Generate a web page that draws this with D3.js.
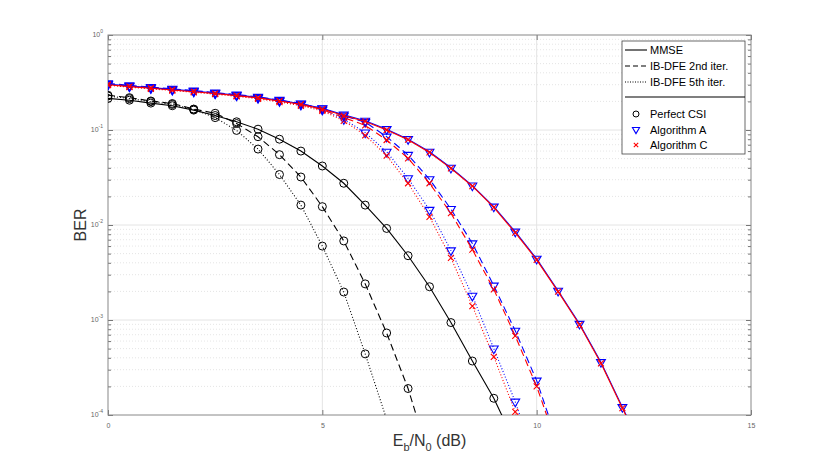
<!DOCTYPE html>
<html>
<head>
  <meta charset="UTF-8">
  <title>BER vs Eb/N0</title>
  <script src="https://d3js.org/d3.v7.min.js"></script>
  <style>
    body { margin: 0; background: #fff; }
    text { font-family: "Liberation Sans", Arial, sans-serif; }
  </style>
</head>
<body>
  <svg width="830" height="467"></svg>

  <script>
    // Eb/N0 points (dB), 0.5 dB step
    const snr = [0, 0.5, 1, 1.5, 2, 2.5, 3, 3.5, 4, 4.5, 5, 5.5, 6, 6.5, 7, 7.5, 8, 8.5, 9, 9.5, 10, 10.5, 11, 11.5, 12, 12.5];

    // perfect CSI
    const perfMmse = [0.215, 0.206, 0.192, 0.180, 0.162, 0.142, 0.122, 0.102, 0.080, 0.060, 0.0418, 0.0275, 0.0162, 0.0092, 0.00475, 0.00224, 0.00094, 0.00037, 0.00015, 0.00005];
    const perfIb2 = [0.232, 0.219, 0.202, 0.190, 0.166, 0.150, 0.117, 0.085, 0.055, 0.032, 0.0156, 0.0068, 0.0024, 0.00073, 0.00019, 0.000035];
    const perfIb5 = [0.228, 0.214, 0.199, 0.186, 0.165, 0.135, 0.099, 0.063, 0.034, 0.0162, 0.0060, 0.00197, 0.00044, 0.00009];

    // algorithm A
    const algAMmse = [0.305, 0.290, 0.279, 0.268, 0.257, 0.245, 0.233, 0.221, 0.205, 0.189, 0.169, 0.145, 0.125, 0.102, 0.080, 0.059, 0.040, 0.026, 0.0156, 0.0085, 0.0044, 0.00203, 0.00091, 0.00036, 0.000121, 0.00004];
    const algAIb2 = [0.310, 0.295, 0.283, 0.271, 0.260, 0.248, 0.236, 0.223, 0.207, 0.190, 0.168, 0.141, 0.121, 0.085, 0.0546, 0.0303, 0.0147, 0.0064, 0.0023, 0.00077, 0.00023, 0.00005];
    const algAIb5 = [0.300, 0.286, 0.275, 0.264, 0.253, 0.242, 0.230, 0.217, 0.201, 0.184, 0.163, 0.130, 0.094, 0.059, 0.031, 0.0144, 0.0054, 0.0018, 0.0005, 0.000138, 0.00003];

    // algorithm C
    const algCMmse = [0.300, 0.286, 0.275, 0.264, 0.253, 0.242, 0.230, 0.218, 0.202, 0.186, 0.166, 0.142, 0.123, 0.100, 0.079, 0.058, 0.0395, 0.0256, 0.0153, 0.0083, 0.0043, 0.00199, 0.00089, 0.00035, 0.000118, 0.00004];
    const algCIb2 = [0.305, 0.290, 0.279, 0.267, 0.256, 0.244, 0.232, 0.219, 0.203, 0.186, 0.164, 0.135, 0.112, 0.0785, 0.0504, 0.0275, 0.0133, 0.0055, 0.0021, 0.00068, 0.00020, 0.000045];
    const algCIb5 = [0.296, 0.282, 0.271, 0.260, 0.249, 0.238, 0.226, 0.213, 0.197, 0.180, 0.159, 0.125, 0.088, 0.0537, 0.0275, 0.0122, 0.0045, 0.0014, 0.00041, 0.000108, 0.00002];

    const xTicks = [0, 5, 10, 15];
    const yTicks = [1e-4, 1e-3, 1e-2, 1e-1, 1];
    const yExp = ["-4", "-3", "-2", "-1", "0"];

    const dashes = { mmse: null, ib2: "7,4", ib5: "1,2" };

    const series = [
      { v: perfMmse, color: "#000", style: "mmse", marker: "circle" },
      { v: perfIb2, color: "#000", style: "ib2", marker: "circle" },
      { v: perfIb5, color: "#000", style: "ib5", marker: "circle" },
      { v: algAIb5, color: "#0000ff", style: "ib5", marker: "tri" },
      { v: algCIb5, color: "#ff0000", style: "ib5", marker: "cross" },
      { v: algAIb2, color: "#0000ff", style: "ib2", marker: "tri" },
      { v: algCIb2, color: "#ff0000", style: "ib2", marker: "cross" },
      { v: algAMmse, color: "#0000ff", style: "mmse", marker: "tri" },
      { v: algCMmse, color: "#ff0000", style: "mmse", marker: "cross" }
    ];

    const pLeft = 108, pRight = 751, pTop = 35, pBottom = 415;

    const x = d3.scaleLinear().domain([0, 15]).range([pLeft, pRight]);
    const y = d3.scaleLog().domain([1e-4, 1]).range([pBottom, pTop]);

    const svg = d3.select("svg");

    svg.append("defs").append("clipPath").attr("id", "plot")
      .append("rect")
      .attr("x", pLeft).attr("y", pTop)
      .attr("width", pRight - pLeft).attr("height", pBottom - pTop);

    // minor y values 2..9 per decade
    const minorY = [];
    for (let e = -4; e < 0; e++) {
      for (let m = 2; m <= 9; m++) minorY.push(m * Math.pow(10, e));
    }

    // grid
    const grid = svg.append("g");
    grid.append("g").selectAll("line")
      .data(minorY)
      .join("line")
      .attr("x1", pLeft).attr("x2", pRight)
      .attr("y1", d => y(d)).attr("y2", d => y(d))
      .attr("stroke", "#dadada")
      .attr("stroke-width", 0.7)
      .attr("stroke-dasharray", "1,2");
    grid.append("g").selectAll("line")
      .data(yTicks.slice(1, -1))
      .join("line")
      .attr("x1", pLeft).attr("x2", pRight)
      .attr("y1", d => y(d)).attr("y2", d => y(d))
      .attr("stroke", "#e4e4e4");
    grid.append("g").selectAll("line")
      .data(xTicks.slice(1, -1))
      .join("line")
      .attr("y1", pTop).attr("y2", pBottom)
      .attr("x1", d => x(d)).attr("x2", d => x(d))
      .attr("stroke", "#e4e4e4");

    // axes
    const axisColor = "#777";
    const styleAxis = g => {
      g.select(".domain").remove();
      g.selectAll(".tick line").attr("stroke", axisColor);
      g.selectAll(".tick text").attr("fill", "#666").attr("font-size", 7);
    };

    svg.append("g")
      .attr("transform", `translate(0,${pBottom})`)
      .call(d3.axisBottom(x).tickValues(xTicks).tickSize(-5).tickPadding(8).tickFormat(d3.format("d")))
      .call(styleAxis);
    svg.append("g")
      .attr("transform", `translate(0,${pTop})`)
      .call(d3.axisTop(x).tickValues(xTicks).tickSize(-5).tickFormat(""))
      .call(styleAxis);

    const yAxisL = svg.append("g")
      .attr("transform", `translate(${pLeft},0)`)
      .call(d3.axisLeft(y).tickValues(yTicks).tickSize(-5).tickPadding(5).tickFormat(""))
      .call(styleAxis);
    yAxisL.selectAll(".tick text")
      .attr("dy", "0.2em")
      .each(function (d, i) {
        const t = d3.select(this);
        t.append("tspan").text("10");
        t.append("tspan").attr("font-size", 5).attr("dy", "-0.7em").text(yExp[i]);
      });
    svg.append("g")
      .attr("transform", `translate(${pRight},0)`)
      .call(d3.axisRight(y).tickValues(yTicks).tickSize(-5).tickFormat(""))
      .call(styleAxis);
    svg.append("g")
      .attr("transform", `translate(${pLeft},0)`)
      .call(d3.axisLeft(y).tickValues(minorY).tickSize(-3).tickFormat(""))
      .call(styleAxis);
    svg.append("g")
      .attr("transform", `translate(${pRight},0)`)
      .call(d3.axisRight(y).tickValues(minorY).tickSize(-3).tickFormat(""))
      .call(styleAxis);

    // frame
    svg.append("rect")
      .attr("x", pLeft).attr("y", pTop)
      .attr("width", pRight - pLeft).attr("height", pBottom - pTop)
      .attr("fill", "none")
      .attr("stroke", "#888")
      .attr("stroke-width", 1);

    // curves
    const line = d3.line().x(d => x(d[0])).y(d => y(d[1]));
    const tri = d3.symbol().type(d3.symbolTriangle).size(34);

    const plot = svg.append("g").attr("clip-path", "url(#plot)");

    function drawMarker(g, kind, color) {
      if (kind === "circle") {
        g.append("circle").attr("r", 4).attr("fill", "none").attr("stroke", color).attr("stroke-width", 1);
      } else if (kind === "tri") {
        g.append("path").attr("d", tri()).attr("transform", "rotate(180)")
          .attr("fill", "none").attr("stroke", color).attr("stroke-width", 1.1);
      } else {
        g.append("path").attr("d", "M-3,-3L3,3M-3,3L3,-3")
          .attr("stroke", color).attr("stroke-width", 1.1);
      }
    }

    series.forEach(s => {
      const pts = s.v.map((v, i) => [snr[i], v]);
      plot.append("path")
        .datum(pts)
        .attr("d", line)
        .attr("fill", "none")
        .attr("stroke", s.color)
        .attr("stroke-width", 1.1)
        .attr("stroke-dasharray", dashes[s.style]);
      plot.append("g").selectAll("g")
        .data(pts.filter(p => p[1] >= 1e-4))
        .join("g")
        .attr("transform", p => `translate(${x(p[0])},${y(p[1])})`)
        .each(function () { drawMarker(d3.select(this), s.marker, s.color); });
    });

    // axis labels
    svg.append("text")
      .attr("transform", `translate(86,${(pTop + pBottom) / 2}) rotate(-90)`)
      .attr("text-anchor", "middle")
      .attr("font-size", 16)
      .attr("fill", "#333")
      .text("BER");

    const xl = svg.append("text")
      .attr("x", (pLeft + pRight) / 2)
      .attr("y", 446)
      .attr("text-anchor", "middle")
      .attr("font-size", 16)
      .attr("fill", "#333");
    xl.append("tspan").text("E");
    xl.append("tspan").attr("font-size", 11).attr("dy", 5).text("b");
    xl.append("tspan").attr("dy", -5).text("/N");
    xl.append("tspan").attr("font-size", 11).attr("dy", 5).text("0");
    xl.append("tspan").attr("dy", -5).text(" (dB)");

    // legend
    const legLines = [
      { label: "MMSE", style: "mmse" },
      { label: "IB-DFE 2nd iter.", style: "ib2" },
      { label: "IB-DFE 5th iter.", style: "ib5" }
    ];
    const legMarkers = [
      { label: "Perfect CSI", marker: "circle", color: "#000" },
      { label: "Algorithm A", marker: "tri", color: "#0000ff" },
      { label: "Algorithm C", marker: "cross", color: "#ff0000" }
    ];

    const leg = svg.append("g");
    leg.append("rect")
      .attr("x", 622).attr("y", 41)
      .attr("width", 123).attr("height", 113)
      .attr("fill", "#fff")
      .attr("stroke", "#444")
      .attr("stroke-width", 0.8);

    legLines.forEach((d, i) => {
      const yy = 50 + i * 16;
      leg.append("line")
        .attr("x1", 625).attr("x2", 647)
        .attr("y1", yy).attr("y2", yy)
        .attr("stroke", "#000")
        .attr("stroke-width", 1.1)
        .attr("stroke-dasharray", d.style === "ib2" ? "5,3" : d.style === "ib5" ? "1,1.5" : null);
      leg.append("text")
        .attr("x", 650).attr("y", yy + 4)
        .attr("font-size", 11)
        .attr("fill", "#000")
        .text(d.label);
    });

    leg.append("line")
      .attr("x1", 625).attr("x2", 745)
      .attr("y1", 97).attr("y2", 97)
      .attr("stroke", "#000")
      .attr("stroke-width", 1.2);

    legMarkers.forEach((d, i) => {
      const yy = 114 + i * 15.5;
      const g = leg.append("g").attr("transform", `translate(636,${yy})`);
      if (d.marker === "circle") {
        g.append("circle").attr("r", 3).attr("fill", "none").attr("stroke", d.color).attr("stroke-width", 1);
      } else if (d.marker === "tri") {
        g.append("path").attr("d", d3.symbol().type(d3.symbolTriangle).size(22)())
          .attr("transform", "rotate(180)")
          .attr("fill", "none").attr("stroke", d.color).attr("stroke-width", 1.1);
      } else {
        g.append("path").attr("d", "M-2.2,-2.2L2.2,2.2M-2.2,2.2L2.2,-2.2")
          .attr("stroke", d.color).attr("stroke-width", 1.1);
      }
      leg.append("text")
        .attr("x", 650).attr("y", yy + 4)
        .attr("font-size", 11)
        .attr("fill", "#000")
        .text(d.label);
    });
  </script>
</body>
</html>
